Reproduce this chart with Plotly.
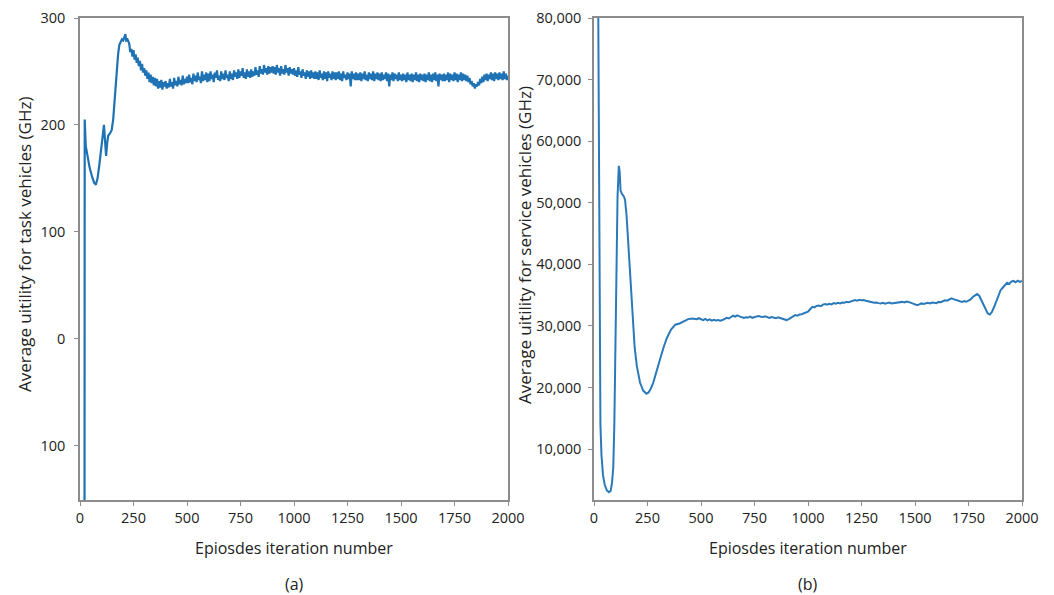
import plotly.graph_objects as go

# ---------------- Panel (a): task vehicles ----------------
episodes_a_early = [20, 22, 27, 31, 36, 45, 57, 66, 74, 82, 90, 98, 105, 112, 117, 122, 127, 132, 140, 148,
                    155, 160, 166, 172, 178, 184, 190, 196, 202, 208, 212, 216, 220]
utility_a_early = [-600, 205, 180, 175, 170, 160, 151, 146, 144, 150, 162, 177, 190, 200, 185, 171, 183, 190, 192, 195,
                   205, 220, 238, 253, 266, 275, 278, 280, 279, 282, 285, 278, 281]
episodes_a_late = list(range(230, 2001, 5))
utility_a_late = [
    276, 268, 271, 264, 270, 261, 266, 258, 263, 255, 260, 251, 257, 249,
    253, 246, 251, 243, 249, 240, 247, 239, 245, 237, 244, 236, 243, 234, 241, 235, 242, 233, 240, 236,
    241, 234, 239, 235, 243, 236, 240, 234, 244, 237, 241, 236, 245, 238, 242, 237, 246, 238, 243, 239,
    245, 239, 247, 240, 244, 238, 248, 241, 246, 240, 249, 242, 245, 239, 250, 241, 247, 242, 249, 240,
    248, 241, 250, 243, 247, 240, 249, 244, 251, 242, 246, 241, 250, 243, 248, 242, 251, 244, 247, 241,
    250, 243, 248, 242, 251, 245, 249, 243, 252, 244, 250, 246, 253, 244, 249, 243, 252, 245, 250, 244,
    252, 245, 250, 246, 254, 247, 251, 245, 255, 248, 252, 247, 256, 249, 253, 247, 255, 248, 254, 249,
    255, 248, 254, 247, 256, 249, 253, 246, 255, 248, 252, 247, 256, 249, 253, 246, 254, 248, 252, 247,
    253, 246, 251, 245, 254, 247, 250, 244, 252, 246, 249, 243, 251, 245, 250, 243, 251, 244, 249, 243,
    250, 243, 249, 242, 251, 244, 248, 242, 250, 243, 249, 241, 250, 244, 248, 242, 250, 243, 249, 242,
    249, 243, 250, 242, 248, 241, 250, 244, 247, 242, 249, 243, 248, 236, 250, 243, 248, 242, 249, 242,
    248, 242, 249, 241, 248, 243, 250, 242, 247, 241, 249, 243, 248, 242, 250, 241, 248, 243, 249, 242,
    248, 241, 249, 242, 247, 243, 249, 241, 248, 236, 247, 242, 249, 241, 248, 243, 247, 241, 249, 242,
    247, 241, 248, 242, 247, 240, 249, 242, 247, 241, 248, 240, 247, 242, 249, 241, 247, 240, 248, 242,
    247, 241, 248, 240, 247, 242, 249, 241, 247, 240, 248, 242, 249, 241, 247, 236, 248, 242, 247, 241,
    248, 241, 247, 242, 249, 240, 248, 242, 247, 241, 249, 242, 248, 240, 247, 242, 249, 241, 248, 242,
    247, 241, 246, 240, 244, 238, 241, 236, 239, 234, 238, 236, 240, 237, 243, 239, 245, 240, 247, 242,
    248, 241, 247, 243, 249, 242, 248, 241, 249, 243, 248, 242, 249, 243, 248, 242, 250, 243, 248, 242,
    246,
]
episodes_a = episodes_a_early + episodes_a_late
utility_a = utility_a_early + utility_a_late

# ---------------- Panel (b): service vehicles ----------------
episodes_b_early = [17, 22, 26, 30, 35, 42, 50, 60, 70, 78, 84, 90, 95, 100, 105, 110, 116, 120, 124, 130,
                    140, 145, 152, 158, 165, 172, 180, 190, 200, 215, 230, 245, 255, 265, 277, 290, 308, 325,
                    340, 360, 380, 400, 420, 440, 460, 480, 490]
utility_b_early = [100000, 60000, 30000, 14000, 9000, 5800, 4200, 3300, 3000, 3200, 4500, 7000, 14000, 28000,
                   42000, 51000, 56000, 55000, 52000, 51500, 51000, 50500, 48000, 44500, 40000, 35000, 30500,
                   26500, 23500, 20800, 19500, 19000, 19200, 19800, 20800, 22500, 24500, 26500, 28000, 29400,
                   30200, 30400, 30800, 31100, 31200, 31100, 31250]
episodes_b_late = list(range(500, 2001, 10))
utility_b_late = [
    31100,
    30950, 31150, 30900, 31050, 30850, 31000, 30900, 30950, 30850, 30950,
    31100, 31300, 31200, 31500, 31650, 31500, 31700, 31550, 31450, 31300,
    31400, 31350, 31500, 31300, 31450, 31550, 31600, 31500, 31450, 31550,
    31400, 31300, 31450, 31350, 31250, 31400, 31300, 31150, 31000, 30950,
    31100, 31300, 31500, 31750, 31650, 31850, 31900, 32050, 32100, 32300,
    32700, 33100, 33000, 33250, 33300, 33200, 33450, 33550, 33450, 33600,
    33500, 33700, 33600, 33750, 33650, 33800, 33750, 33900, 33850, 34000,
    34050, 34200, 34100, 34250, 34150, 34200, 34100, 34050, 33950, 33850,
    33750, 33800, 33700, 33650, 33750, 33600, 33700, 33800, 33650, 33700,
    33650, 33700, 33800, 33900, 33800, 33950, 33900, 33800, 33650, 33550,
    33380, 33500, 33650, 33550, 33600, 33750, 33650, 33800, 33750, 33700,
    33900, 33850, 34000, 34150, 34100, 34300, 34470, 34350, 34200, 34100,
    34000, 33900, 34050, 33920, 34100, 34300, 34700, 35000, 35170, 34900,
    34200, 33380, 32600, 32030, 31850, 32300, 33110, 34000, 35000, 35800,
    36200, 36600, 37000, 36800, 37200, 37300, 37100, 37350, 37150, 37300,
]
episodes_b = episodes_b_early + episodes_b_late
utility_b = utility_b_early + utility_b_late

x_ticks = [0, 250, 500, 750, 1000, 1250, 1500, 1750, 2000]
a_tickvals = [-100, 0, 100, 200, 300]
a_ticktext = ["100", "0", "100", "200", "300"]
b_tickvals = [10000, 20000, 30000, 40000, 50000, 60000, 70000, 80000]

LINE = "#1f72b3"
AX = "#8c8c8c"
FONT = "Open Sans"

fig = go.Figure()
fig.add_trace(go.Scatter(x=episodes_a, y=utility_a, mode="lines",
                         line=dict(color=LINE, width=2.2), xaxis="x", yaxis="y", showlegend=False))
fig.add_trace(go.Scatter(x=episodes_b, y=utility_b, mode="lines",
                         line=dict(color="#2a7abb", width=2), xaxis="x2", yaxis="y2", showlegend=False))

axis_common = dict(showline=True, mirror=True, linecolor=AX, linewidth=1.5, ticks="outside",
                   ticklen=4, tickcolor=AX, tickwidth=1, showgrid=False, zeroline=False,
                   automargin=False,
                   tickfont=dict(family=FONT, size=14.5, color="#222"))

fig.update_layout(
    width=1054, height=595, autosize=False, margin=dict(l=0, r=0, t=0, b=0, pad=0, autoexpand=False),
    paper_bgcolor="white", plot_bgcolor="white",
    font=dict(family=FONT, color="#222"),
    xaxis=dict(domain=[80/1054, 508/1054], range=[0, 2000], tickvals=x_ticks, anchor="y", **axis_common),
    yaxis=dict(domain=[95/595, 577/595], range=[-151, 300], tickvals=a_tickvals, ticktext=a_ticktext,
               anchor="x", ticklabelstandoff=6, **axis_common),
    xaxis2=dict(domain=[594/1054, 1022/1054], range=[0, 2000], tickvals=x_ticks, anchor="y2", **axis_common),
    yaxis2=dict(domain=[95/595, 577/595], range=[1730, 80000], tickvals=b_tickvals, tickformat=",",
                anchor="x2", ticklabelstandoff=4, **axis_common),
)

ann = []
def add(text, x, y, angle=0, size=16):
    ann.append(dict(text=text, x=x/1054, y=1-y/595, xref="paper", yref="paper", showarrow=False,
                    textangle=angle, font=dict(family=FONT, size=size, color="#222"),
                    xanchor="center", yanchor="middle"))

add("Epiosdes iteration number", 294, 548)
add("Epiosdes iteration number", 808, 548)
add("(a)", 294, 584)
add("(b)", 808, 584)
add("Average uitility for task vehicles (GHz)", 24, 245, -90, 17)
add("Average uitility for service vehicles (GHz)", 524, 245, -90, 17)
fig.update_layout(annotations=ann)

fig.write_html("out.html")
